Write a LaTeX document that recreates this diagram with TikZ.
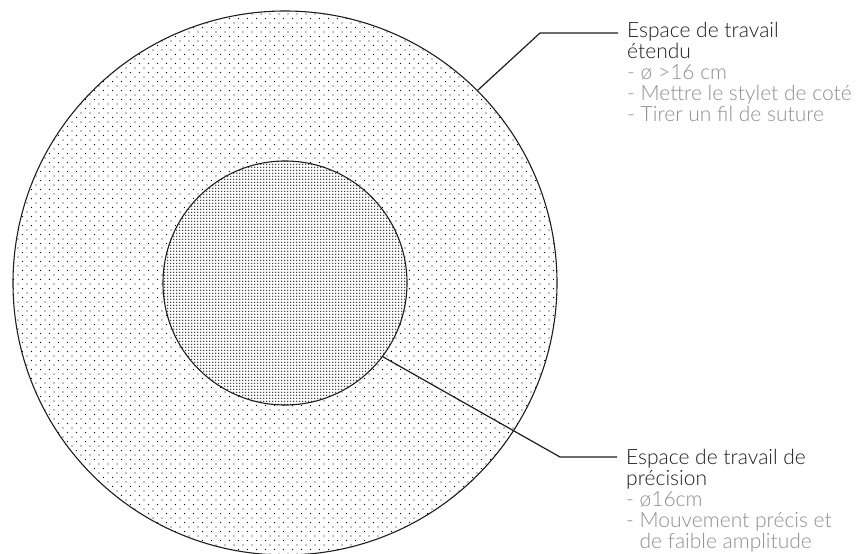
\documentclass[tikz,border=0pt]{standalone}
\usepackage{fontspec}
\setmainfont{Lato}[UprightFont=* Light]
\usetikzlibrary{patterns}

\definecolor{inkgrey}{HTML}{1E1E1E}
\definecolor{subgrey}{HTML}{8E8E8E}
\newcommand{\subline}[1]{{\color{subgrey}#1}}

% sparse staggered dots for the outer zone
\pgfdeclarepatternformonly{sparse dots}{\pgfqpoint{-1pt}{-1pt}}{\pgfqpoint{5.5pt}{5.5pt}}{\pgfqpoint{9pt}{9pt}}{
  \pgfpathcircle{\pgfqpoint{0pt}{0pt}}{.65pt}
  \pgfpathcircle{\pgfqpoint{4.5pt}{4.5pt}}{.65pt}
  \pgfusepath{fill}
}
% dense dots for the inner zone
\pgfdeclarepatternformonly{dense dots}{\pgfqpoint{-1pt}{-1pt}}{\pgfqpoint{2pt}{2pt}}{\pgfqpoint{3pt}{3pt}}{
  \pgfpathcircle{\pgfqpoint{0pt}{0pt}}{.75pt}
  \pgfusepath{fill}
}

\begin{document}
\begin{tikzpicture}[x=1pt, y=-1pt,
    zone/.style={circle, draw=inkgrey, line width=1.1pt, inner sep=0pt},
    leader/.style={draw=inkgrey, line width=1.2pt},
    caption/.style={anchor=north west, inner sep=0pt, align=left, text=inkgrey,
      font=\fontsize{21}{21}\selectfont}]
    \useasboundingbox (0,0) rectangle (857,554);
    % Nodes
    \node[zone, minimum size=544pt, pattern=sparse dots] (outer) at (285,283) {};
    \node[zone, minimum size=244pt, preaction={fill=white}, pattern=dense dots] (inner) at (285,283) {};
    \coordinate (kneeA) at (540,33);
    \coordinate (tipA) at (618,33);
    \coordinate (kneeB) at (560,457);
    \coordinate (tipB) at (617,457);
    \node[caption] (etendu) at (627,22) {Espace de travail\\étendu\\
      \subline{- ø >16 cm}\\\subline{- Mettre le stylet de coté}\\\subline{- Tirer un fil de suture}};
    \node[caption] (precision) at (626,449) {Espace de travail de\\précision\\
      \subline{- ø16cm}\\\subline{- Mouvement précis et}\\\subline{\phantom{- }de faible amplitude}};
    % Edges
    \draw[leader] (outer.45) -- (kneeA) -- (tipA);
    \draw[leader] (inner.-37) -- (kneeB) -- (tipB);
\end{tikzpicture}
\end{document}
